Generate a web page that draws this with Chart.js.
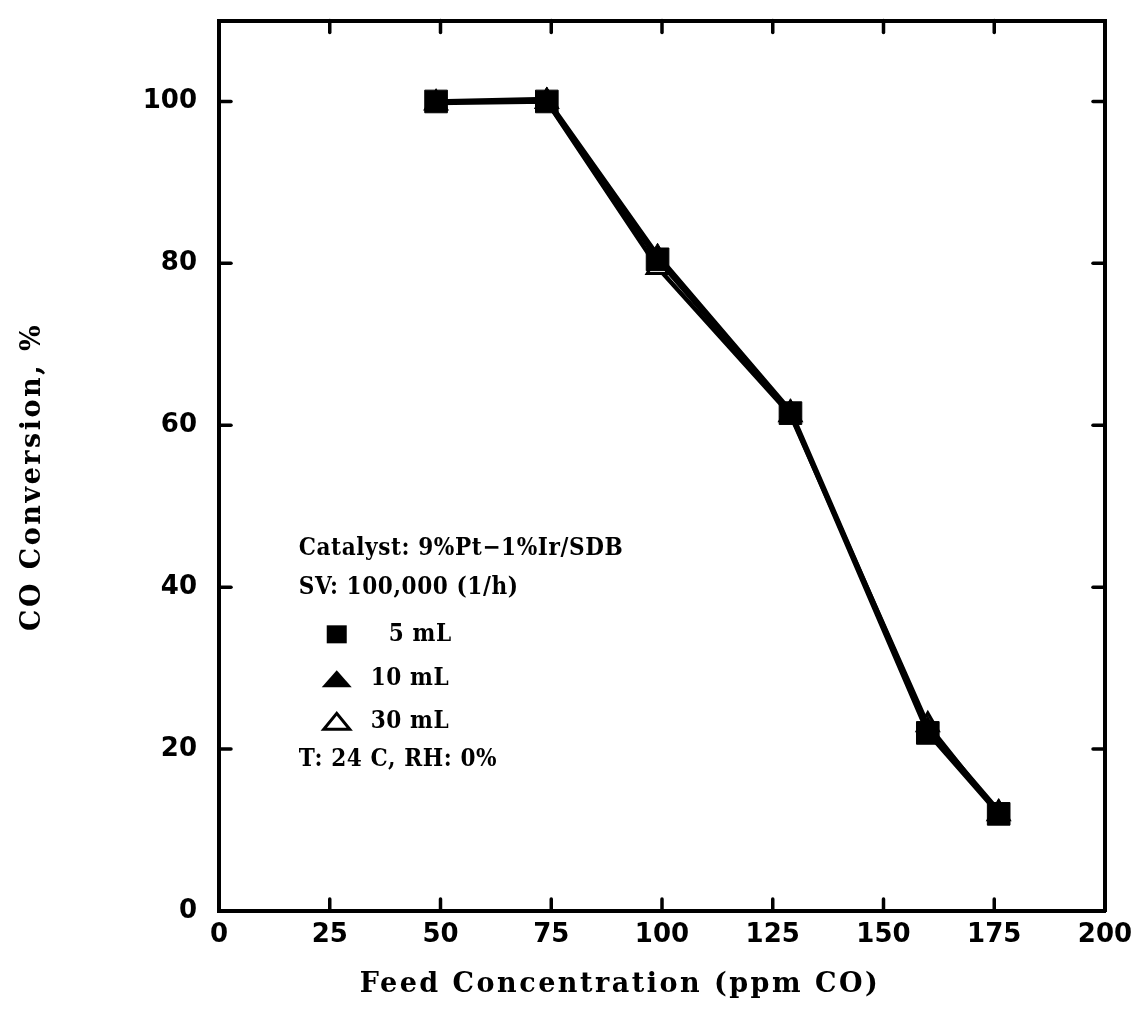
<!DOCTYPE html>
<html>
<head>
<meta charset="utf-8">
<script src="https://cdn.jsdelivr.net/npm/chart.js@4.4.1/dist/chart.umd.min.js"></script>
<style>
  html, body { margin: 0; padding: 0; background: #fff; }
  #wrap { width: 1148px; height: 1034px; }
</style>
</head>
<body>
<div id="wrap"><canvas id="convChart"></canvas></div>
<script>
// Data
const feedPpm = [49, 74, 99, 129, 160, 176];
const conv5mL = [100, 100, 80.5, 61.5, 22, 12];
const conv10mL = [100, 100.3, 81, 61.8, 22.6, 12.4];
const conv30mL = [99.8, 100, 79.5, 61.3, 23, 12];
const xTickValues = [0, 25, 50, 75, 100, 125, 150, 175, 200];
const yTickValues = [0, 20, 40, 60, 80, 100];

const xTitle = 'Feed Concentration (ppm CO)';
const yTitle = 'CO Conversion, %';
const noteLines = ['Catalyst: 9%Pt\u22121%Ir/SDB', 'SV: 100,000 (1/h)'];
const legendLabels = ['5 mL', '10 mL', '30 mL'];
const footLine = 'T: 24 C, RH: 0%';

const TICK_FONT = { family: '"DejaVu Sans", sans-serif', size: 26, weight: 'bold', lineHeight: 0.5 };
const TITLE_FONT = 'bold 27px "DejaVu Serif", serif';
const NOTE_FONT = 'bold 24px "DejaVu Serif Condensed", "DejaVu Serif", serif';

function points(ys) {
    return feedPpm.map((x, i) => ({ x: x, y: ys[i] }));
}

function setTicks(values) {
    return function(scale) {
        scale.ticks = values.map(v => ({ value: v }));
    };
}

// Inward tick marks on all four sides of the frame
const innerTicks = {
    id: 'innerTicks',
    afterDraw(chart) {
        const ctx = chart.ctx;
        const area = chart.chartArea;
        const len = 12;
        ctx.save();
        ctx.strokeStyle = '#000';
        ctx.lineWidth = 3.5;
        ctx.lineCap = 'round';
        ['x', 'x2'].forEach(id => {
            const s = chart.scales[id];
            s.ticks.forEach(t => {
                if (t.value <= s.min || t.value >= s.max) return;
                const px = s.getPixelForValue(t.value);
                const y0 = id === 'x' ? area.bottom : area.top;
                const y1 = id === 'x' ? area.bottom - len : area.top + len;
                ctx.beginPath();
                ctx.moveTo(px, y0);
                ctx.lineTo(px, y1);
                ctx.stroke();
            });
        });
        ['y', 'y2'].forEach(id => {
            const s = chart.scales[id];
            s.ticks.forEach(t => {
                if (t.value <= s.min || t.value >= s.max) return;
                const py = s.getPixelForValue(t.value);
                const x0 = id === 'y' ? area.left : area.right;
                const x1 = id === 'y' ? area.left + len : area.right - len;
                ctx.beginPath();
                ctx.moveTo(x0, py);
                ctx.lineTo(x1, py);
                ctx.stroke();
            });
        });
        ctx.restore();
    }
};

// Axis titles (drawn here to get the wide letter spacing of the original)
const axisTitles = {
    id: 'axisTitles',
    afterDraw(chart) {
        const ctx = chart.ctx;
        ctx.save();
        ctx.fillStyle = '#000';
        ctx.font = TITLE_FONT;
        ctx.letterSpacing = '2.5px';
        ctx.textAlign = 'center';
        ctx.textBaseline = 'alphabetic';
        ctx.fillText(xTitle, 620, 992);

        ctx.translate(40, 477);
        ctx.rotate(-Math.PI / 2);
        ctx.fillText(yTitle, 0, 0);
        ctx.restore();
    }
};

// Text block with catalyst info and marker key
const noteBlock = {
    id: 'noteBlock',
    afterDraw(chart) {
        const ctx = chart.ctx;
        const xs = chart.scales.x;
        const ys = chart.scales.y;
        const left = xs.getPixelForValue(18);
        const top = ys.getPixelForValue(44.8);
        ctx.save();
        ctx.fillStyle = '#000';
        ctx.strokeStyle = '#000';
        ctx.font = NOTE_FONT;
        ctx.letterSpacing = '0.6px';
        ctx.textBaseline = 'middle';
        ctx.textAlign = 'left';

        ctx.fillText(noteLines[0], left, top);
        ctx.fillText(noteLines[1], left, top + 39);

        const mx = left + 38;
        // square
        let yy = top + 86;
        ctx.fillRect(mx - 10, yy - 9, 20, 18);
        ctx.fillText(legendLabels[0], left + 90, yy);
        // filled triangle
        yy = top + 130;
        ctx.beginPath();
        ctx.moveTo(mx - 15, yy + 9);
        ctx.lineTo(mx + 15, yy + 9);
        ctx.lineTo(mx, yy - 8);
        ctx.closePath();
        ctx.fill();
        ctx.fillText(legendLabels[1], left + 72, yy);
        // open triangle
        yy = top + 173;
        ctx.lineWidth = 3;
        ctx.beginPath();
        ctx.moveTo(mx - 13, yy + 8);
        ctx.lineTo(mx + 13, yy + 8);
        ctx.lineTo(mx, yy - 8);
        ctx.closePath();
        ctx.stroke();
        ctx.fillText(legendLabels[2], left + 72, yy);

        ctx.fillText(footLine, left, top + 211);
        ctx.restore();
    }
};

const ctx = document.getElementById('convChart').getContext('2d');
const convChart = new Chart(ctx, {
    type: 'scatter',
    data: {
        datasets: [
            {
                label: '5 mL',
                data: points(conv5mL),
                showLine: true,
                borderColor: '#000',
                backgroundColor: '#000',
                borderWidth: 4.5,
                pointStyle: 'rect',
                pointRadius: 16,
                pointBorderWidth: 1
            },
            {
                label: '10 mL',
                data: points(conv10mL),
                showLine: true,
                borderColor: '#000',
                backgroundColor: '#000',
                borderWidth: 4.5,
                pointStyle: 'triangle',
                pointRadius: 12,
                pointBorderWidth: 1
            },
            {
                label: '30 mL',
                data: points(conv30mL),
                showLine: true,
                borderColor: '#000',
                backgroundColor: '#fff',
                borderWidth: 4.5,
                pointStyle: 'triangle',
                pointRadius: 12,
                pointBorderWidth: 3
            }
        ]
    },
    options: {
        responsive: true,
        maintainAspectRatio: false,
        animation: false,
        layout: { padding: 0 },
        plugins: {
            legend: { display: false },
            tooltip: { enabled: false }
        },
        scales: {
            x: {
                type: 'linear',
                position: 'bottom',
                min: 0,
                max: 200,
                afterBuildTicks: setTicks(xTickValues),
                afterFit: function(s) { s.height = 123; },
                grid: { display: false },
                border: { display: true, color: '#000', width: 4 },
                ticks: { color: '#000', font: TICK_FONT, padding: 10, maxRotation: 0 }
            },
            x2: {
                type: 'linear',
                position: 'top',
                min: 0,
                max: 200,
                afterBuildTicks: setTicks(xTickValues),
                afterFit: function(s) { s.height = 20; },
                grid: { display: false },
                border: { display: true, color: '#000', width: 4 },
                ticks: { display: false }
            },
            y: {
                type: 'linear',
                position: 'left',
                min: 0,
                max: 110,
                afterBuildTicks: setTicks(yTickValues),
                afterFit: function(s) { s.width = 219; },
                grid: { display: false },
                border: { display: true, color: '#000', width: 4 },
                ticks: { color: '#000', font: TICK_FONT, padding: 14 }
            },
            y2: {
                type: 'linear',
                position: 'right',
                min: 0,
                max: 110,
                afterBuildTicks: setTicks(yTickValues),
                afterFit: function(s) { s.width = 43; },
                grid: { display: false },
                border: { display: true, color: '#000', width: 4 },
                ticks: { display: false }
            }
        }
    },
    plugins: [innerTicks, axisTitles, noteBlock]
});
</script>
</body>
</html>
